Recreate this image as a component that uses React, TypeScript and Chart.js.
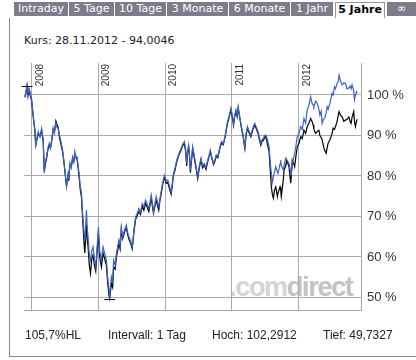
import React, { useEffect, useRef } from "react";
import { Chart, registerables } from "chart.js";

Chart.register(...registerables);

const dates = [
  2007.900, 2007.915, 2007.930, 2007.945, 2007.960, 2007.975, 2008.000, 2008.019, 2008.049, 2008.060,
  2008.079, 2008.099, 2008.124, 2008.149, 2008.173, 2008.188, 2008.206, 2008.224, 2008.243, 2008.263,
  2008.281, 2008.299, 2008.322, 2008.340, 2008.363, 2008.378, 2008.397, 2008.415, 2008.433, 2008.463,
  2008.482, 2008.497, 2008.522, 2008.546, 2008.557, 2008.572, 2008.594, 2008.612, 2008.631, 2008.646,
  2008.661, 2008.681, 2008.696, 2008.710, 2008.728, 2008.746, 2008.758, 2008.770, 2008.784, 2008.796,
  2008.821, 2008.833, 2008.845, 2008.863, 2008.881, 2008.900, 2008.919, 2008.940, 2008.960, 2008.979,
  2009.000, 2009.019, 2009.045, 2009.069, 2009.094, 2009.119, 2009.139, 2009.158, 2009.169, 2009.194,
  2009.213, 2009.228, 2009.251, 2009.269, 2009.288, 2009.307, 2009.325, 2009.343, 2009.363, 2009.378,
  2009.397, 2009.418, 2009.437, 2009.457, 2009.482, 2009.507, 2009.531, 2009.557, 2009.582, 2009.606,
  2009.631, 2009.657, 2009.681, 2009.706, 2009.731, 2009.755, 2009.773, 2009.791, 2009.807, 2009.825,
  2009.845, 2009.866, 2009.885, 2009.904, 2009.922, 2009.940, 2009.964, 2009.990, 2010.015, 2010.039,
  2010.064, 2010.090, 2010.109, 2010.124, 2010.149, 2010.173, 2010.206, 2010.239, 2010.263, 2010.288,
  2010.307, 2010.322, 2010.337, 2010.352, 2010.366, 2010.378, 2010.396, 2010.412, 2010.430, 2010.448,
  2010.467, 2010.487, 2010.512, 2010.537, 2010.561, 2010.587, 2010.612, 2010.636, 2010.657, 2010.676,
  2010.701, 2010.725, 2010.746, 2010.766, 2010.788, 2010.810, 2010.825, 2010.845, 2010.870, 2010.896,
  2010.915, 2010.934, 2010.960, 2010.985, 2011.004, 2011.024, 2011.042, 2011.060, 2011.079, 2011.094,
  2011.119, 2011.143, 2011.169, 2011.194, 2011.213, 2011.233, 2011.258, 2011.284, 2011.313, 2011.343,
  2011.367, 2011.393, 2011.412, 2011.433, 2011.452, 2011.473, 2011.490, 2011.507, 2011.531, 2011.557,
  2011.572, 2011.591, 2011.606, 2011.621, 2011.639, 2011.657, 2011.681, 2011.691, 2011.721, 2011.731,
  2011.740, 2011.770, 2011.781, 2011.806, 2011.821, 2011.855, 2011.881, 2011.890, 2011.904, 2011.930,
  2011.940, 2011.960, 2011.979, 2012.004, 2012.030, 2012.054, 2012.079, 2012.104, 2012.128, 2012.154,
  2012.179, 2012.199, 2012.218, 2012.228, 2012.254, 2012.278, 2012.303, 2012.318, 2012.337, 2012.352,
  2012.370, 2012.388, 2012.412, 2012.427, 2012.442, 2012.467, 2012.482, 2012.501, 2012.516, 2012.537,
  2012.552, 2012.576, 2012.591, 2012.606, 2012.627, 2012.651, 2012.676, 2012.701, 2012.725, 2012.751,
  2012.770, 2012.785, 2012.800, 2012.825, 2012.836, 2012.851, 2012.866, 2012.878,
];

// Blue line (benchmark), percent
const benchmark = [
  99.6, 101.0, 102.2, 100.2, 101.5, 100.8, 98.8, 95.5, 91.3, 87.2,
  89.5, 90.9, 89.6, 91.8, 88.9, 80.7, 83.5, 84.8, 86.9, 88.1,
  86.8, 88.9, 91.8, 90.5, 93.2, 92.0, 91.8, 90.2, 88.9, 86.4,
  84.0, 81.5, 77.3, 80.6, 79.0, 83.2, 82.0, 84.7, 83.5, 86.0,
  84.5, 84.7, 82.5, 80.7, 77.5, 75.7, 72.0, 69.1, 66.0, 64.2,
  71.6, 67.0, 65.0, 60.5, 59.2, 61.5, 62.5, 59.5, 57.6, 62.0,
  67.4, 61.5, 59.2, 62.5, 60.9, 59.2, 55.0, 51.8, 50.5, 55.1,
  54.0, 59.2, 58.0, 60.9, 62.5, 64.2, 62.8, 67.4, 65.0, 65.9,
  67.0, 67.9, 66.0, 65.0, 64.0, 62.5, 66.5, 69.9, 70.8, 72.0,
  71.0, 73.2, 72.3, 74.0, 73.0, 72.0, 73.5, 75.3, 73.5, 71.2,
  73.0, 74.9, 73.5, 72.4, 74.5, 76.1, 78.5, 80.2, 78.8, 79.0,
  77.5, 76.1, 78.5, 80.6, 82.0, 83.9, 85.5, 86.8, 87.8, 88.5,
  86.5, 83.1, 86.4, 87.6, 85.0, 81.5, 84.5, 87.2, 85.5, 83.9,
  82.0, 79.8, 82.5, 84.4, 82.5, 83.1, 82.0, 83.9, 85.0, 86.4,
  84.5, 83.1, 84.0, 85.2, 84.8, 86.4, 87.5, 88.5, 88.0, 89.7,
  91.5, 93.4, 95.0, 96.7, 95.2, 93.0, 95.0, 96.3, 95.0, 97.1,
  94.5, 92.2, 90.0, 87.2, 90.5, 92.2, 91.0, 90.1, 91.8, 93.0,
  92.0, 90.9, 89.5, 88.1, 89.0, 89.3, 90.0, 90.1, 89.0, 87.2,
  83.9, 80.6, 78.5, 79.8, 81.0, 82.3, 81.0, 80.6, 83.0, 83.9,
  82.5, 81.5, 82.5, 84.4, 84.0, 83.1, 81.0, 80.6, 83.0, 84.8,
  85.5, 87.5, 89.7, 90.5, 92.2, 91.5, 94.2, 93.0, 96.3, 97.5,
  99.6, 98.0, 97.5, 97.1, 98.5, 97.9, 96.5, 95.0, 96.0, 93.0,
  94.0, 94.2, 95.5, 97.1, 96.5, 97.9, 99.0, 100.4, 100.0, 102.0,
  101.5, 102.9, 103.2, 104.9, 103.5, 102.5, 103.0, 102.9, 101.5, 101.7,
  102.2, 101.5, 102.5, 101.0, 98.8, 100.0, 100.8, 100.5,
];

// Black line (Kurs), percent
const stock = [
  99.4, 100.6, 102.3, 99.8, 101.3, 100.2, 98.5, 95.2, 91.0, 87.6,
  89.0, 90.5, 89.8, 91.2, 88.5, 81.2, 83.0, 84.4, 86.5, 87.6,
  86.9, 88.4, 91.5, 90.8, 93.6, 92.8, 92.0, 89.6, 88.2, 86.0,
  83.5, 81.3, 77.6, 80.1, 78.8, 82.6, 82.3, 84.2, 83.6, 85.6,
  84.9, 84.0, 82.0, 79.8, 76.6, 74.8, 71.0, 67.5, 63.5, 61.0,
  68.0, 64.5, 62.5, 58.0, 55.9, 59.5, 60.5, 58.0, 56.5, 61.0,
  66.0, 60.0, 57.5, 61.0, 59.5, 58.0, 53.5, 50.5, 49.73, 53.5,
  52.5, 57.5, 57.0, 60.0, 61.5, 63.5, 62.0, 66.8, 64.5, 65.3,
  66.5, 67.2, 65.6, 64.4, 63.4, 62.0, 66.0, 69.3, 70.3, 71.2,
  70.5, 72.6, 71.5, 73.3, 72.2, 71.2, 72.8, 74.6, 72.8, 70.8,
  72.4, 74.2, 72.7, 71.5, 74.0, 75.6, 78.0, 79.7, 78.2, 78.4,
  76.9, 75.5, 78.0, 80.2, 81.5, 83.5, 85.2, 86.4, 87.5, 88.0,
  86.0, 82.5, 86.0, 87.2, 84.5, 80.8, 84.0, 86.8, 85.0, 83.2,
  81.5, 79.3, 82.0, 84.0, 82.0, 82.7, 81.6, 83.4, 84.7, 86.0,
  84.2, 82.8, 83.7, 85.0, 84.5, 86.1, 87.2, 88.2, 87.7, 89.4,
  91.2, 93.0, 94.6, 96.3, 94.8, 92.5, 94.7, 95.9, 94.6, 96.7,
  94.2, 91.8, 89.6, 86.8, 90.2, 91.8, 90.6, 89.7, 91.4, 92.6,
  91.6, 90.4, 89.0, 87.6, 88.6, 88.8, 89.5, 89.8, 88.0, 86.0,
  82.0, 77.3, 75.5, 74.5, 76.5, 77.3, 74.9, 75.8, 77.3, 76.5,
  74.9, 79.0, 81.5, 82.5, 83.9, 82.3, 78.2, 80.0, 83.9, 82.8,
  82.3, 85.0, 87.2, 88.0, 89.7, 89.2, 91.3, 90.5, 92.2, 93.0,
  94.2, 93.5, 92.6, 91.5, 90.5, 91.0, 91.3, 90.0, 89.5, 88.9,
  87.5, 86.4, 85.6, 87.0, 88.1, 88.9, 89.5, 90.5, 91.8, 91.5,
  92.2, 93.5, 94.8, 95.9, 95.0, 94.6, 93.5, 93.8, 94.0, 94.6,
  93.5, 93.0, 94.5, 95.9, 93.5, 92.2, 93.5, 94.0,
];

const yearTicks = [2008, 2009, 2010, 2011, 2012];
const percentTicks = [50, 60, 70, 80, 90, 100];
const highPoint = { x: 2007.93, v: 102.2912 };
const lowPoint = { x: 2009.169, v: 49.7327 };

const tabLabels = ["Intraday", "5 Tage", "10 Tage", "3 Monate", "6 Monate", "1 Jahr", "5 Jahre", "∞"];
const selectedTab = "5 Jahre";
const kursText = "Kurs: 28.11.2012 - 94,0046";
const footerTexts = ["105,7%HL", "Intervall: 1 Tag", "Hoch: 102,2912", "Tief: 49,7327"];

// layout (pixels)
const TAB_LEFT = [14, 69, 115, 167, 229, 291, 335, 387];
const TAB_WIDTH = [54, 45, 51, 61, 61, 42, 50, 29];
const FOOTER_LEFT = [25, 108, 212, 323];

const GRID = "#a9a9a9";
const SANS = '"Liberation Sans", Arial, sans-serif';
const VERDANA = '"DejaVu Sans", Verdana, sans-serif';

const overlayPlugin = {
  id: "overlay",
  afterDatasetsDraw(chart: any) {
    const { ctx, chartArea, scales } = chart;
    const x = scales.x;
    const y = scales.y;
    ctx.save();
    ctx.fillStyle = "#333";
    ctx.font = "10px " + SANS;
    ctx.textAlign = "right";
    ctx.textBaseline = "alphabetic";
    for (const t of x.ticks) {
      const px = x.getPixelForValue(t.value);
      ctx.save();
      ctx.translate(Math.round(px) + 11, chartArea.top + 1);
      ctx.rotate(-Math.PI / 2);
      ctx.fillText(String(t.value), 0, 0);
      ctx.restore();
    }
    ctx.strokeStyle = "#111";
    ctx.lineWidth = 1;
    for (const m of [highPoint, lowPoint]) {
      const px = x.getPixelForValue(m.x);
      const py = Math.round(y.getPixelForValue(m.v)) + 0.5;
      ctx.beginPath();
      ctx.moveTo(px - 5.5, py);
      ctx.lineTo(px + 5.5, py);
      ctx.stroke();
    }
    ctx.restore();
  },
};

export default function App() {
  const canvasRef = useRef<HTMLCanvasElement | null>(null);

  useEffect(() => {
    document.body.style.margin = "0";
    const canvas = canvasRef.current;
    if (!canvas) return;
    const chart = new Chart(canvas, {
      type: "line",
      data: {
        datasets: [
          {
            label: "Index",
            data: dates.map((d, i) => ({ x: d, y: benchmark[i] })),
            borderColor: "#3a62c8",
            borderWidth: 1.2,
            pointRadius: 0,
            tension: 0,
            fill: false,
          },
          {
            label: "Kurs",
            data: dates.map((d, i) => ({ x: d, y: stock[i] })),
            borderColor: "#000000",
            borderWidth: 1.2,
            pointRadius: 0,
            tension: 0,
            fill: false,
          },
        ],
      },
      options: {
        animation: false,
        responsive: false,
        events: [],
        layout: { padding: { left: 24, top: 63, right: 0, bottom: 0 } },
        plugins: { legend: { display: false }, tooltip: { enabled: false } },
        scales: {
          x: {
            type: "linear",
            position: "bottom",
            min: 2007.885,
            max: 2012.934,
            afterBuildTicks: (scale: any) => {
              scale.ticks = yearTicks.map((v) => ({ value: v }));
            },
            afterFit: (scale: any) => {
              scale.height = 50;
            },
            ticks: { display: false },
            grid: { color: GRID, lineWidth: 1, drawTicks: false },
            border: { display: true, color: GRID, width: 1 },
          },
          y: {
            type: "linear",
            position: "right",
            min: 46.9,
            max: 107.9,
            afterBuildTicks: (scale: any) => {
              scale.ticks = percentTicks.map((v) => ({ value: v }));
            },
            afterFit: (scale: any) => {
              scale.width = 55;
            },
            ticks: {
              padding: 6,
              color: "#333",
              font: { family: SANS, size: 13 },
              callback: (v: any) => v + " %",
            },
            grid: { color: GRID, lineWidth: 1, drawTicks: false },
            border: { display: true, color: GRID, width: 1 },
          },
        },
      },
      plugins: [overlayPlugin],
    } as any);
    return () => chart.destroy();
  }, []);

  return (
    <div
      style={{
        position: "relative",
        width: 416,
        height: 360,
        background: "#fff",
        overflow: "hidden",
      }}
    >
      {tabLabels.map((t, i) => {
        const sel = t === selectedTab;
        return (
          <div
            key={t}
            style={{
              position: "absolute",
              left: TAB_LEFT[i],
              top: 2,
              width: TAB_WIDTH[i],
              height: sel ? 16 : 14,
              boxSizing: "border-box",
              background: sel ? "#fff" : "#7c7c8c",
              border: sel ? "1px solid #9a9a9a" : "none",
              borderBottom: "none",
              color: sel ? "#000" : "#fff",
              fontFamily: VERDANA,
              fontWeight: sel ? "bold" : "normal",
              fontSize: 11,
              lineHeight: sel ? "13px" : "14px",
              textAlign: "center",
              whiteSpace: "nowrap",
            }}
          >
            {t}
          </div>
        );
      })}
      <div style={{ position: "absolute", left: 9, top: 18, width: 1, height: 339, background: "#8a8a8a" }} />
      <div style={{ position: "absolute", left: 9, top: 356, width: 407, height: 1, background: "#8a8a8a" }} />
      <div
        style={{
          position: "absolute",
          left: 24,
          top: 35,
          fontFamily: VERDANA,
          fontSize: 11,
          lineHeight: "11px",
          color: "#222",
          whiteSpace: "nowrap",
        }}
      >
        {kursText}
      </div>
      <div
        style={{
          position: "absolute",
          left: 229,
          top: 273,
          fontFamily: SANS,
          fontSize: 27,
          fontWeight: "bold",
          lineHeight: "28px",
          letterSpacing: -1.3,
          color: "#c2c2c2",
          whiteSpace: "nowrap",
        }}
      >
        <span style={{ color: "#d4d4d4" }}>.com</span>direct
      </div>
      <canvas
        ref={canvasRef}
        width={416}
        height={360}
        style={{ position: "absolute", left: 0, top: 0, width: 416, height: 360 }}
      />
      {footerTexts.map((t, i) => (
        <div
          key={t}
          style={{
            position: "absolute",
            left: FOOTER_LEFT[i],
            top: 329,
            fontFamily: SANS,
            fontSize: 12,
            lineHeight: "12px",
            color: "#222",
            whiteSpace: "nowrap",
          }}
        >
          {t}
        </div>
      ))}
    </div>
  );
}
